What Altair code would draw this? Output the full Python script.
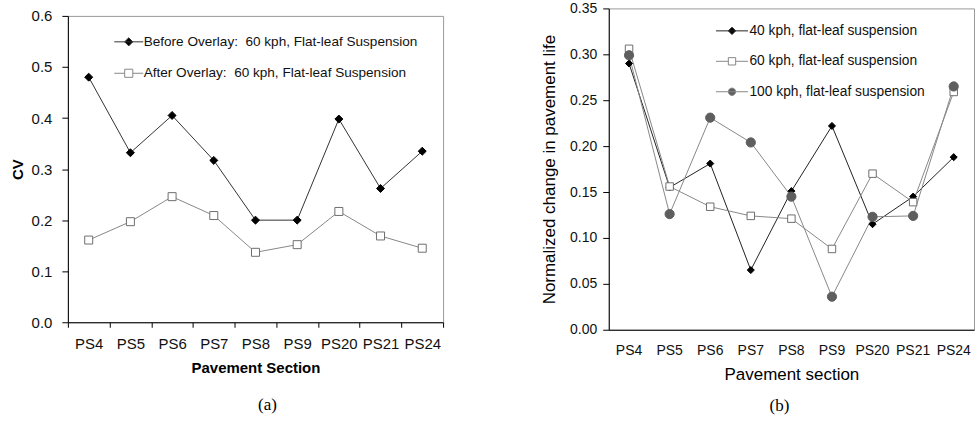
import altair as alt
import pandas as pd

# ---------------- data ----------------
sections = ["PS4", "PS5", "PS6", "PS7", "PS8", "PS9", "PS20", "PS21", "PS24"]

cv_before = [0.480, 0.332, 0.405, 0.317, 0.200, 0.200, 0.398, 0.262, 0.335]
cv_after = [0.161, 0.197, 0.246, 0.209, 0.137, 0.152, 0.217, 0.169, 0.145]

life_40 = [0.290, 0.155, 0.181, 0.065, 0.151, 0.222, 0.115, 0.145, 0.188]
life_60 = [0.306, 0.156, 0.134, 0.124, 0.121, 0.088, 0.170, 0.139, 0.259]
life_100 = [0.299, 0.126, 0.231, 0.204, 0.145, 0.036, 0.123, 0.124, 0.265]

series_a = ["Before Overlay: \u00a060 kph, Flat-leaf Suspension",
            "After Overlay: \u00a060 kph, Flat-leaf Suspension"]
series_b = ["40 kph, flat-leaf suspension",
            "60 kph, flat-leaf suspension",
            "100 kph, flat-leaf suspension"]

y_ticks_a = [0.0, 0.1, 0.2, 0.3, 0.4, 0.5, 0.6]
y_ticks_b = [0.0, 0.05, 0.10, 0.15, 0.20, 0.25, 0.30, 0.35]

FONT = "Liberation Sans"


def long_table(names, values_list):
    rows = []
    for name, vals in zip(names, values_list):
        for s, v in zip(sections, vals):
            rows.append({"section": s, "series": name, "value": v})
    return pd.DataFrame(rows)


df_a = long_table(series_a, [cv_before, cv_after])
df_b = long_table(series_b, [life_40, life_60, life_100])


def legend_paths(d):
    diamond = f"M-1,0H1M0,-{d}L{d},0L0,{d}L-{d},0Z"
    square = f"M-1,0H-{d}M{d},0H1M-{d},-{d}H{d}V{d}H-{d}Z"
    circle = f"M-1,0H1M{d},0A{d},{d} 0 1 1 -{d},0A{d},{d} 0 1 1 {d},0Z"
    return {"diamond": diamond, "square": square, "circle": circle}


def make_panel(df, names, styles, x_axis, y_axis, y_domain, width, height,
               legend_kw, caption, caption_dx, caption_offset, path_d):
    base = alt.Chart(df)
    x = alt.X("section:N", sort=sections,
              scale=alt.Scale(type="band", paddingInner=0, paddingOuter=0),
              bandPosition=0.5, axis=x_axis)
    y = alt.Y("value:Q", scale=alt.Scale(domain=y_domain, nice=False, zero=True),
              axis=y_axis)
    layers = []
    for name, st in zip(names, styles):
        layers.append(
            base.transform_filter(alt.datum.series == name)
            .mark_line(color=st["line"], strokeWidth=1)
            .encode(x=x, y=y)
        )
    for name, st in zip(names, styles):
        layers.append(
            base.transform_filter(alt.datum.series == name)
            .mark_point(shape=st["shape"], size=st["size"], filled=True,
                        fill=st["fill"], stroke=st["stroke"], strokeWidth=1,
                        opacity=1)
            .encode(x=x, y=y)
        )
    paths = legend_paths(path_d)
    legend = alt.Legend(**legend_kw)
    layers.append(
        base.transform_filter("false")
        .mark_point(filled=True, opacity=1)
        .encode(
            x=x, y=y,
            color=alt.Color("series:N", legend=legend,
                            scale=alt.Scale(domain=names, range=[s["fill"] for s in styles])),
            stroke=alt.Stroke("series:N", legend=legend,
                              scale=alt.Scale(domain=names, range=[s["line"] for s in styles])),
            shape=alt.Shape("series:N", legend=legend,
                            scale=alt.Scale(domain=names, range=[paths[s["shape"]] for s in styles])),
        )
    )
    return alt.layer(*layers).properties(
        width=width, height=height,
        title=alt.TitleParams(text=caption, orient="bottom", anchor="middle",
                              frame="group", font="Liberation Serif",
                              fontSize=17, fontWeight="normal", color="#000",
                              dx=caption_dx, offset=caption_offset),
    )


styles_a = [
    {"line": "#333333", "shape": "diamond", "size": 64, "fill": "#000000", "stroke": "#000000"},
    {"line": "#888888", "shape": "square", "size": 64, "fill": "#ffffff", "stroke": "#6e6e6e"},
]
styles_b = [
    {"line": "#222222", "shape": "diamond", "size": 50, "fill": "#000000", "stroke": "#000000"},
    {"line": "#888888", "shape": "square", "size": 56, "fill": "#ffffff", "stroke": "#6e6e6e"},
    {"line": "#888888", "shape": "circle", "size": 85, "fill": "#5e5e5e", "stroke": "#5e5e5e"},
]

x_axis_a = alt.Axis(title="Pavement Section", titleFontWeight="bold", titleFontSize=15,
                    titleColor="#000", titlePadding=9, labelFontSize=15, labelColor="#111",
                    labelPadding=9, labelAngle=0, tickBand="extent", tickSize=5,
                    tickColor="#000", domainColor="#000", labelOverlap=False, grid=False)
y_axis_a = alt.Axis(title="CV", titleFontWeight="bold", titleFontSize=15, titleColor="#000",
                    titlePadding=6, values=y_ticks_a, format=".1f", labelFontSize=15,
                    labelColor="#111", labelPadding=10, tickSize=6, tickColor="#000",
                    domainColor="#000", grid=False)
x_axis_b = alt.Axis(title="Pavement section", titleFontWeight="normal", titleFontSize=17,
                    titleColor="#000", titlePadding=9, labelFontSize=14, labelColor="#111",
                    labelPadding=14, labelAngle=0, ticks=False, domainColor="#000",
                    labelOverlap=False, grid=False)
y_axis_b = alt.Axis(title="Normalized change in pavement life", titleFontWeight="normal",
                    titleFontSize=17, titleColor="#000", titlePadding=11, values=y_ticks_b,
                    format=".2f", labelFontSize=14, labelColor="#111", labelPadding=6,
                    tickSize=6, tickColor="#000", domainColor="#000", grid=False)

legend_a = dict(title=None, orient="none", legendX=46, legendY=11, padding=0,
                symbolSize=841, symbolStrokeWidth=1, symbolOpacity=1,
                labelFontSize=13.6, labelColor="#111", labelOffset=0, labelLimit=600,
                rowPadding=9.5, labelFont=FONT)
legend_b = dict(title=None, orient="none", legendX=107, legendY=6, padding=0,
                symbolSize=1024, symbolStrokeWidth=1, symbolOpacity=1,
                labelFontSize=13.8, labelColor="#111", labelOffset=1, labelLimit=600,
                rowPadding=6.5, labelFont=FONT)

panel_a = make_panel(df_a, series_a, styles_a, x_axis_a, y_axis_a, [0, 0.6], 376, 307,
                     legend_a, "(a)", 12, 22, 0.28)
panel_b = make_panel(df_b, series_b, styles_b, x_axis_b, y_axis_b, [0, 0.35], 366, 322,
                     legend_b, "(b)", -12, 15, 0.23)

chart = (
    alt.hconcat(panel_a, panel_b, spacing=166, bounds="flush", center=True)
    .resolve_scale(color="independent", stroke="independent", shape="independent")
    .resolve_legend(color="independent", stroke="independent", shape="independent")
    .properties(padding={"left": 9, "top": 0, "right": 2, "bottom": 0})
    .configure(font=FONT)
    .configure_view(stroke="#999999", strokeWidth=1)
)

chart.save("out.html", embed_options={"renderer": "svg", "actions": False})
